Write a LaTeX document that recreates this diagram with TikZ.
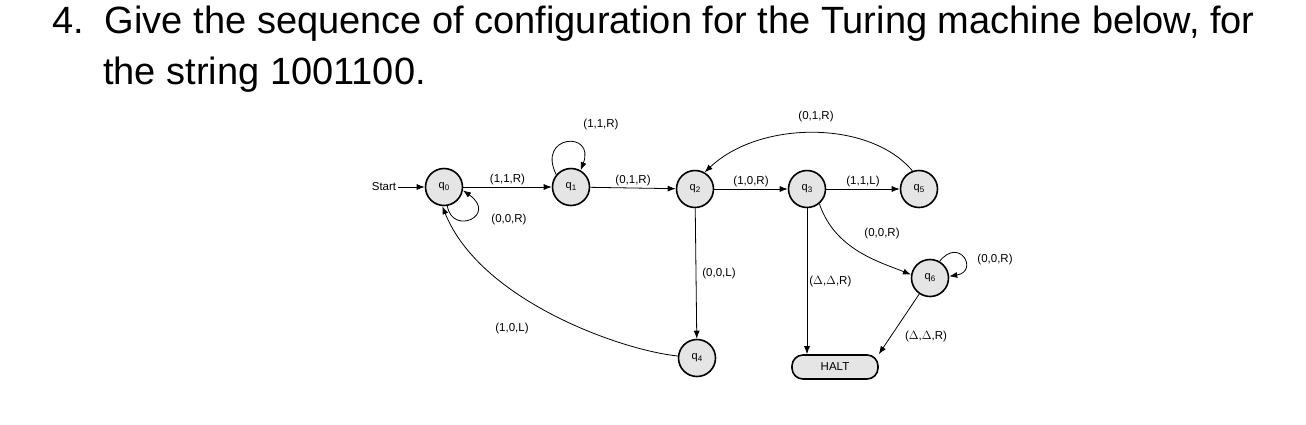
\documentclass[tikz,border=0pt]{standalone}
\usepackage{fontspec}
\setmainfont{Liberation Sans}
\usetikzlibrary{arrows.meta}
\newcommand{\qs}[1]{q\raisebox{-2pt}{\fontsize{8}{9}\selectfont #1}}
\begin{document}
\begin{tikzpicture}[x=1pt,y=-1pt,
  st/.style={circle,draw,line width=1.6pt,fill=gray!20,minimum size=37pt,inner sep=0pt,font=\fontsize{11}{12}\selectfont},
  lb/.style={font=\fontsize{11.5}{12}\selectfont,inner sep=2pt},
  ar/.style={-{Latex[length=8pt,width=6pt]},line width=0.8pt},
  tt/.style={font=\fontsize{38}{42}\selectfont,anchor=base west,inner sep=0pt}]
\useasboundingbox (0,0) rectangle (1306,424);
\node[tt] (t1) at (52,33) {4.\ \ Give the sequence of configuration for the Turing machine below, for};
\node[tt] (t2) at (103,84) {the string 1001100.};
\node[st] (q0) at (444,187) {\qs{0}};
\node[st] (q1) at (571,187) {\qs{1}};
\node[st] (q2) at (695,189) {\qs{2}};
\node[st] (q3) at (807,189) {\qs{3}};
\node[st] (q5) at (919,189) {\qs{5}};
\node[st] (q6) at (930,278) {\qs{6}};
\node[st] (q4) at (697,358) {\qs{4}};
\node[draw,line width=1.6pt,fill=gray!20,rounded corners=11pt,minimum width=86pt,minimum height=24pt,font=\fontsize{11.5}{12}\selectfont] (h) at (835,367) {HALT};
\node[lb] (s) at (384,187) {Start};
\draw[ar] (s) -- (q0);
\draw[ar] (q0) -- node[lb,above] {(1,1,R)} (q1);
\draw[ar] (q1) -- node[lb,above] {(0,1,R)} (q2);
\draw[ar] (q2) -- node[lb,above] {(1,0,R)} (q3);
\draw[ar] (q3) -- node[lb,above] {(1,1,L)} (q5);
\draw[ar] (q0.-80) .. controls +(5,30) and +(35,25) .. (q0.-10);
\node[lb] (l00) at (509,220) {(0,0,R)};
\draw[ar] (q1.140) .. controls +(-20,-40) and +(15,-40) .. (q1.60);
\node[lb] (l11) at (601,125) {(1,1,R)};
\draw[ar] (q2) -- node[lb,right,xshift=4pt] {(0,0,L)} (q4);
\draw[ar] (q4) .. controls (620,350) and (480,300) .. (q0.-95);
\node[lb] (l10) at (512,329) {(1,0,L)};
\draw[ar] (q5.110) .. controls (870,120) and (760,120) .. (q2.60);
\node[lb] (l01) at (816,117) {(0,1,R)};
\draw[ar] (q3) -- node[lb,right,pos=0.5] {($\Delta$,$\Delta$,R)} (h.north -| q3);
\draw[ar] (q3.-50) .. controls (835,250) and (880,262) .. (q6.170);
\node[lb] (l00b) at (882,234) {(0,0,R)};
\draw[ar] (q6.60) .. controls +(20,-25) and +(30,-5) .. (q6.5);
\node[lb] (l00c) at (995,260) {(0,0,R)};
\draw[ar] (q6) -- (h.north east);
\node[lb] (ldd) at (926,337) {($\Delta$,$\Delta$,R)};
\end{tikzpicture}
\end{document}
